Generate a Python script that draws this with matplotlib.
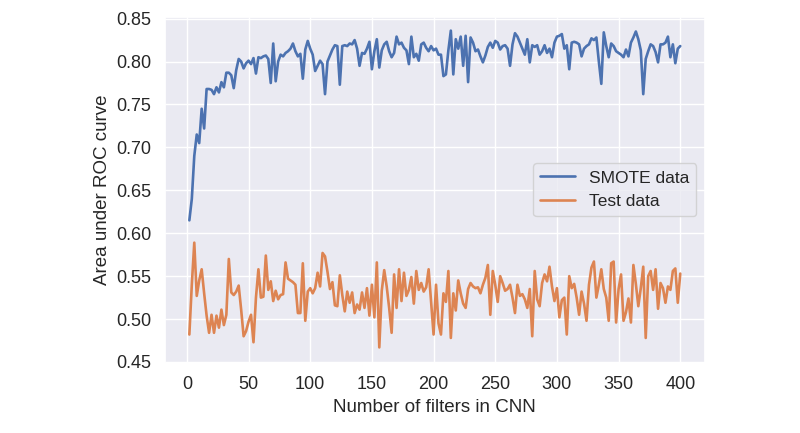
import matplotlib
matplotlib.use('Agg')
import matplotlib.pyplot as plt
import numpy as np
import seaborn as sns

# 卷积核数量 2, 4, ..., 400
filters = np.arange(2, 401, 2)

smote_auc = [
    0.615, 0.640, 0.690, 0.715, 0.705, 0.745, 0.722, 0.768, 0.768, 0.767,
    0.762, 0.770, 0.764, 0.776, 0.770, 0.787, 0.787, 0.784, 0.769, 0.790,
    0.803, 0.800, 0.792, 0.798, 0.801, 0.797, 0.804, 0.786, 0.805, 0.804,
    0.806, 0.807, 0.803, 0.775, 0.821, 0.777, 0.800, 0.808, 0.806, 0.810,
    0.812, 0.815, 0.821, 0.812, 0.806,
    0.809, 0.780, 0.814, 0.824, 0.815, 0.808, 0.789, 0.795, 0.801, 0.797,
    0.762, 0.800, 0.807, 0.814, 0.819, 0.818, 0.773, 0.818, 0.819, 0.818,
    0.821, 0.820, 0.825, 0.815, 0.795, 0.810, 0.809, 0.815, 0.823, 0.791,
    0.812, 0.826, 0.793, 0.813, 0.820, 0.823, 0.812, 0.805, 0.810, 0.829,
    0.820, 0.822, 0.816, 0.813, 0.797, 0.829, 0.805, 0.809, 0.801, 0.820,
    0.822, 0.816, 0.812,
    0.818, 0.813, 0.815, 0.808, 0.808, 0.783, 0.785, 0.813, 0.836, 0.785,
    0.826, 0.815, 0.829, 0.795, 0.830, 0.776, 0.828, 0.822, 0.812, 0.814,
    0.806, 0.799, 0.807, 0.817, 0.822, 0.816, 0.824, 0.822, 0.814, 0.818,
    0.819, 0.815, 0.795, 0.820, 0.833, 0.829, 0.822, 0.815, 0.808, 0.826,
    0.799, 0.819, 0.817, 0.819, 0.808, 0.812, 0.819, 0.810, 0.815, 0.805,
    0.822, 0.829, 0.830,
    0.832, 0.815, 0.819, 0.791, 0.822, 0.823, 0.822, 0.820, 0.806, 0.815,
    0.818, 0.820, 0.827, 0.825, 0.828, 0.800, 0.774, 0.834, 0.818, 0.805,
    0.821, 0.818, 0.812, 0.810, 0.808, 0.805, 0.814, 0.806, 0.822, 0.828,
    0.835, 0.826, 0.813, 0.762, 0.803, 0.812, 0.820, 0.818, 0.811, 0.799,
    0.820, 0.820, 0.822, 0.829, 0.805, 0.820, 0.798, 0.815, 0.818,
]

test_auc = [
    0.482, 0.540, 0.589, 0.527, 0.545, 0.558, 0.530, 0.504, 0.484, 0.505,
    0.484, 0.504, 0.490, 0.511, 0.493, 0.505, 0.570, 0.531, 0.528, 0.532,
    0.539, 0.511, 0.480, 0.486, 0.497, 0.505, 0.473, 0.525, 0.558, 0.525,
    0.526, 0.574, 0.534, 0.544, 0.521, 0.533, 0.523, 0.528, 0.529, 0.566,
    0.547, 0.545, 0.543, 0.540, 0.507,
    0.507, 0.565, 0.498, 0.532, 0.536, 0.530, 0.536, 0.554, 0.538, 0.577,
    0.573, 0.555, 0.535, 0.543, 0.516, 0.515, 0.551, 0.528, 0.509, 0.532,
    0.519, 0.531, 0.507, 0.517, 0.511, 0.531, 0.513, 0.536, 0.504, 0.540,
    0.502, 0.566, 0.467, 0.533, 0.557, 0.538, 0.513, 0.484, 0.552, 0.513,
    0.558, 0.521, 0.554, 0.527, 0.534, 0.549, 0.518, 0.556, 0.534, 0.542,
    0.532, 0.537, 0.558,
    0.520, 0.482, 0.540, 0.495, 0.482, 0.530, 0.520, 0.556, 0.478, 0.530,
    0.510, 0.545, 0.530, 0.518, 0.513, 0.535, 0.542, 0.538, 0.536, 0.537,
    0.530, 0.540, 0.548, 0.563, 0.505, 0.556, 0.540, 0.520, 0.550, 0.542,
    0.533, 0.535, 0.540, 0.525, 0.507, 0.540, 0.527, 0.529, 0.523, 0.513,
    0.535, 0.480, 0.556, 0.523, 0.515, 0.542, 0.552, 0.544, 0.561, 0.538,
    0.521, 0.536, 0.502,
    0.522, 0.525, 0.482, 0.550, 0.536, 0.541, 0.525, 0.505, 0.532, 0.518,
    0.498, 0.540, 0.560, 0.567, 0.525, 0.540, 0.558, 0.535, 0.525, 0.498,
    0.565, 0.567, 0.496, 0.535, 0.552, 0.498, 0.508, 0.524, 0.496, 0.563,
    0.541, 0.515, 0.536, 0.561, 0.478, 0.550, 0.556, 0.534, 0.558, 0.512,
    0.542, 0.536, 0.519, 0.538, 0.534, 0.556, 0.559, 0.519, 0.553,
]

sns.set_theme(style='darkgrid')
plt.rcParams['font.family'] = ['Liberation Sans', 'DejaVu Sans']

fig = plt.figure(figsize=(8, 4.33), dpi=100)
ax = fig.add_axes([0.206, 0.162, 0.675, 0.799])

ax.plot(filters, smote_auc, color='#4C72B0', linewidth=1.9, label='SMOTE data')
ax.plot(filters, test_auc, color='#DD8452', linewidth=1.9, label='Test data')

ax.set_ylim(0.449, 0.852)
ax.set_yticks(np.arange(0.45, 0.851, 0.05))
ax.set_xticks(np.arange(0, 401, 50))
ax.tick_params(labelsize=13)
ax.set_xlabel('Number of filters in CNN', fontsize=13.5)
ax.set_ylabel('Area under ROC curve', fontsize=13.5)
ax.legend(loc='center right', fontsize=12.5)

fig.savefig('out.png', dpi=100)
